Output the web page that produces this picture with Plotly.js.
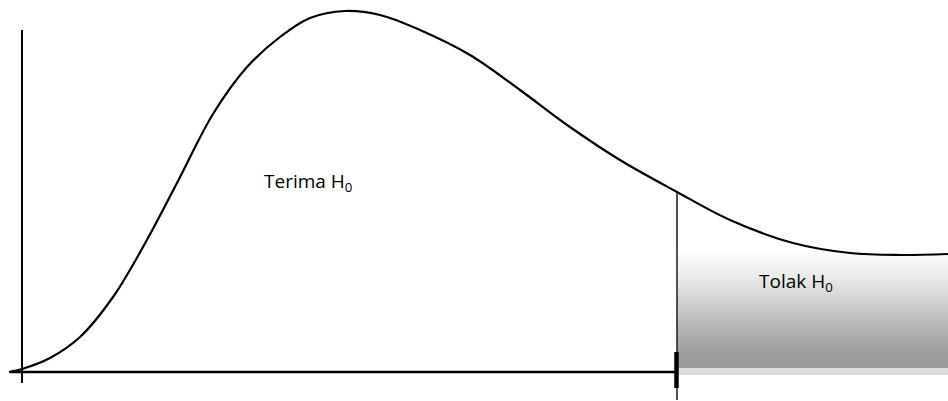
<!DOCTYPE html>
<html>
<head>
<meta charset="utf-8">
<script src="https://cdn.plot.ly/plotly-3.0.1.min.js"></script>
<style>
  html, body { margin: 0; padding: 0; background: #ffffff; }
  #chart { width: 948px; height: 401px; }
</style>
</head>
<body>
<div id="chart"></div>
<script>
// Sampling distribution of the test statistic (right-skewed density curve)
const statValues = [-13, 0, 28, 58, 91, 121, 155, 191, 225, 258, 288, 323,
                    358, 398, 448, 498, 548, 598, 655, 708, 771, 828, 878, 926];
const densityValues = [0, 3, 14, 35, 75, 125, 189, 258, 305, 335, 354, 361,
                       357, 342, 317, 282, 245, 212, 180, 152, 129, 119, 117, 118];

// Critical value separating the acceptance and rejection regions
const criticalValue = 655;

// Region labels
const acceptLabel = 'Terima H<sub>0</sub>';
const rejectLabel = 'Tolak H<sub>0</sub>';

// Plot window (data units)
const xMin = -22, xMax = 926;
const yMin = -29, yMax = 372;

// Rejection region box
const boxTop = 122, boxBottom = 4, bandBottom = -3;

const rejectBox = {
  x: [criticalValue, xMax, xMax, criticalValue, criticalValue],
  y: [boxBottom, boxBottom, boxTop, boxTop, boxBottom],
  mode: 'lines',
  line: { width: 0 },
  fill: 'toself',
  fillgradient: {
    type: 'vertical',
    start: boxBottom,
    stop: boxTop,
    colorscale: [[0, '#999999'], [0.15, '#9f9f9f'], [0.45, '#c2c2c2'], [0.75, '#e8e8e8'], [1, '#ffffff']]
  },
  hoverinfo: 'skip',
  showlegend: false
};

const rejectBand = {
  x: [criticalValue, xMax, xMax, criticalValue, criticalValue],
  y: [bandBottom, bandBottom, boxBottom, boxBottom, bandBottom],
  mode: 'lines',
  line: { width: 0 },
  fill: 'toself',
  fillcolor: '#dddddd',
  hoverinfo: 'skip',
  showlegend: false
};

const curve = {
  x: statValues,
  y: densityValues,
  mode: 'lines',
  line: { color: '#000000', width: 2.2, shape: 'spline', smoothing: 1 },
  hoverinfo: 'skip',
  showlegend: false
};

const layout = {
  width: 948,
  height: 401,
  margin: { l: 0, r: 0, t: 0, b: 0 },
  paper_bgcolor: '#ffffff',
  plot_bgcolor: '#ffffff',
  xaxis: { range: [xMin, xMax], visible: false, fixedrange: true },
  yaxis: { range: [yMin, yMax], visible: false, fixedrange: true },
  shapes: [
    // vertical axis
    { type: 'line', xref: 'x', yref: 'y', x0: 0, x1: 0, y0: -11, y1: 342,
      line: { color: '#000000', width: 2 }, layer: 'above' },
    // horizontal axis
    { type: 'line', xref: 'x', yref: 'y', x0: -12, x1: criticalValue, y0: 0, y1: 0,
      line: { color: '#000000', width: 2.5 }, layer: 'above' },
    // critical value line
    { type: 'line', xref: 'x', yref: 'y', x0: criticalValue, x1: criticalValue, y0: -28, y1: 179,
      line: { color: '#1a1a1a', width: 1.5 }, layer: 'above' },
    // critical value marker
    { type: 'line', xref: 'x', yref: 'y', x0: criticalValue - 0.5, x1: criticalValue - 0.5, y0: -16, y1: 20,
      line: { color: '#000000', width: 4.5 }, layer: 'above' }
  ],
  annotations: [
    { x: 286, y: 190, xref: 'x', yref: 'y', text: acceptLabel, showarrow: false,
      font: { family: 'Open Sans, sans-serif', size: 19, color: '#000000' } },
    { x: 774, y: 90, xref: 'x', yref: 'y', text: rejectLabel, showarrow: false,
      font: { family: 'Open Sans, sans-serif', size: 19, color: '#000000' } }
  ]
};

Plotly.newPlot('chart', [rejectBox, rejectBand, curve], layout, { staticPlot: true, displayModeBar: false });
</script>
</body>
</html>
